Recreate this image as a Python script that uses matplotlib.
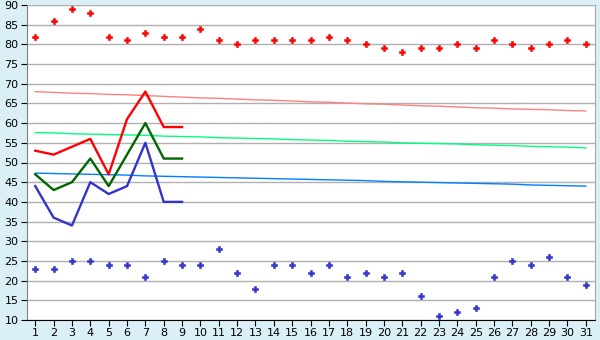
import matplotlib
matplotlib.use("Agg")
import matplotlib.pyplot as plt

days = list(range(1, 32))
hi_pts = [82, 86, 89, 88, 82, 81, 83, 82, 82, 84, 81, 80, 81, 81, 81, 81, 82, 81, 80, 79,
          78, 79, 79, 80, 79, 81, 80, 79, 80, 81, 80]
lo_pts = [23, 23, 25, 25, 24, 24, 21, 25, 24, 24, 28, 22, 18, 24, 24, 22, 24, 21, 22, 21,
          22, 16, 11, 12, 13, 21, 25, 24, 26, 21, 19]
line_days = list(range(1, 10))
hi_line = [53, 52, 54, 56, 47, 61, 68, 59, 59]
mid_line = [47, 43, 45, 51, 44, 52, 60, 51, 51]
lo_line = [44, 36, 34, 45, 42, 44, 55, 40, 40]
hi_norm = [68.0, 67.8, 67.6, 67.5, 67.3, 67.2, 67.0, 66.8, 66.6, 66.4, 66.3, 66.1, 65.9, 65.8,
           65.6, 65.4, 65.3, 65.1, 64.9, 64.8, 64.6, 64.4, 64.3, 64.1, 63.9, 63.8, 63.6, 63.5,
           63.4, 63.2, 63.1]
mid_norm = [57.6, 57.5, 57.3, 57.2, 57.1, 57.0, 56.9, 56.7, 56.6, 56.5, 56.3, 56.2, 56.1, 56.0,
            55.8, 55.7, 55.6, 55.4, 55.3, 55.2, 55.0, 54.9, 54.8, 54.7, 54.5, 54.4, 54.3, 54.1,
            54.0, 53.9, 53.7]
lo_norm = [47.3, 47.2, 47.1, 47.0, 46.9, 46.8, 46.6, 46.5, 46.4, 46.3, 46.2, 46.1, 46.0, 45.9,
           45.8, 45.7, 45.6, 45.5, 45.4, 45.2, 45.1, 45.0, 44.9, 44.8, 44.7, 44.6, 44.5, 44.3,
           44.2, 44.1, 44.0]
yticks = list(range(10, 91, 5))

fig = plt.figure(figsize=(6, 3.4), dpi=100, facecolor="#daeff6")
ax = fig.add_axes([27/600, 20/340, 568/600, 315/340])
ax.set_facecolor("white")

ax.plot(days, hi_norm, color="#ff8080", lw=1.0, zorder=2)
ax.plot(days, mid_norm, color="#00ff80", lw=1.0, zorder=2)
ax.plot(days, lo_norm, color="#0080ff", lw=1.0, zorder=2)
ax.plot(line_days, hi_line, color="#ff0000", lw=1.7, zorder=3)
ax.plot(line_days, mid_line, color="#006600", lw=1.7, zorder=3)
ax.plot(line_days, lo_line, color="#3333cc", lw=1.7, zorder=3)
ax.plot(days, hi_pts, ls="none", marker="P", ms=4.5, color="#ff0000", mew=0.4, zorder=4)
ax.plot(days, lo_pts, ls="none", marker="P", ms=4.5, color="#3333cc", mew=0.4, zorder=4)

ax.set_xlim(0.55, 31.5)
ax.set_ylim(10, 90)
ax.set_xticks(days)
ax.set_yticks(yticks)
ax.tick_params(labelsize=8, length=4, color="black", pad=2)
ax.grid(axis="y", color="#b0b0b0", lw=1)
ax.set_axisbelow(True)
ax.spines["top"].set_visible(False)
ax.spines["right"].set_color("#a8a8a8")
ax.spines["left"].set_color("#808080")
ax.spines["bottom"].set_color("black")

fig.savefig("out.png", dpi=100, facecolor=fig.get_facecolor())
